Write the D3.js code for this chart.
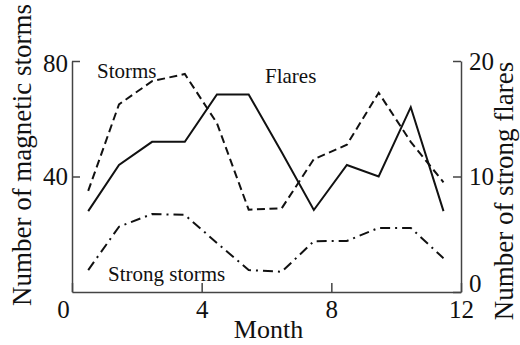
<!DOCTYPE html>
<html>

<head>
  <meta charset="utf-8">
  <!-- Load d3.js -->
  <script src="https://d3js.org/d3.v7.min.js"></script>

  <style>
    body {
      margin: 0;
      background: rgb(255, 255, 255);
    }

    text {
      font-family: "Liberation Serif", "Times New Roman", serif;
      fill: #111;
    }

    .axis path,
    .axis line {
      fill: none;
      stroke: #444;
      stroke-width: 1.5px;
    }

    .axis text {
      font-size: 25px;
    }

    .data-line {
      fill: none;
      stroke: #111;
      stroke-width: 2px;
    }
  </style>

</head>

<body>
  <div id="chart"></div>
  <script>
    // month positions of the points
    var months = [0.5, 1.45, 2.47, 3.48, 4.47, 5.45, 6.47, 7.46, 8.48, 9.46, 10.45, 11.46];

    // magnetic storms, left axis
    var storms = [35, 65, 73, 75.5, 58.5, 28.5, 29, 46, 51, 69, 52, 38];

    // strong storms, left axis
    var strongStorms = [7.6, 22.6, 27, 26.7, 17, 7.6, 7, 17.6, 17.7, 22.2, 22.2, 11.7];

    // strong flares, right axis
    var flares = [7, 11, 13, 13, 17.1, 17.1, 12.1, 7.1, 11, 10, 16, 7];

    var xTicks = [0, 4, 8, 12];
    var leftTicks = [40, 80];
    var rightTicks = [0, 10, 20];

    // set the dimensions and margins of the graph
    var margin = {
        top: 61,
        right: 59,
        bottom: 53,
        left: 72
      },
      width = 520 - margin.left - margin.right,
      height = 345 - margin.top - margin.bottom;

    var svg = d3.select('#chart')
      .append("svg")
      .attr("width", width + margin.left + margin.right)
      .attr("height", height + margin.top + margin.bottom)
      .append("g")
      .attr("transform", "translate(" + margin.left + "," + margin.top + ")");

    // set the ranges
    var x = d3.scaleLinear().domain([0, 12]).range([0, width]);
    var yLeft = d3.scaleLinear().domain([0, 80]).range([height, 0]);
    var yRight = d3.scaleLinear().domain([0, 20]).range([height, 0]);

    // Add the X Axis (ticks point inward)
    var xAxis = svg.append("g")
      .attr("class", "x axis")
      .attr("transform", "translate(0," + height + ")")
      .call(d3.axisBottom(x).tickValues(xTicks).tickSizeInner(-9).tickSizeOuter(0).tickPadding(8));
    xAxis.selectAll("text").attr("dx", function(d) {
      return d === 0 ? -9 : 0;
    });

    // Left Y Axis
    svg.append("g")
      .attr("class", "y axis")
      .call(d3.axisLeft(yLeft).tickValues(leftTicks).tickSizeInner(-8).tickSizeOuter(0).tickPadding(4))
      .selectAll("text").attr("dy", function(d) {
        return d === 80 ? "0.42em" : "0.32em";
      });

    // Right Y Axis
    svg.append("g")
      .attr("class", "y axis")
      .attr("transform", "translate(" + width + ",0)")
      .call(d3.axisRight(yRight).tickValues(rightTicks).tickSizeInner(-8).tickSizeOuter(0).tickPadding(8))
      .selectAll("text").attr("dy", function(d) {
        return d === 0 ? "-0.04em" : "0.32em";
      });

    // lines
    function lineFor(values, scale) {
      return d3.line()
        .x(function(d, i) {
          return x(months[i]);
        })
        .y(function(d) {
          return scale(d);
        })(values);
    }

    svg.append("path")
      .attr("class", "data-line")
      .style("stroke-dasharray", "8,4.5")
      .attr("d", lineFor(storms, yLeft));

    svg.append("path")
      .attr("class", "data-line")
      .style("stroke-dasharray", "10,5,2,5")
      .attr("d", lineFor(strongStorms, yLeft));

    svg.append("path")
      .attr("class", "data-line")
      .attr("d", lineFor(flares, yRight));

    // series labels
    svg.append("text").attr("x", 25).attr("y", 17)
      .style("font-size", "21px").text("Storms");
    svg.append("text").attr("x", 193).attr("y", 22)
      .style("font-size", "21px").text("Flares");
    svg.append("text").attr("x", 36).attr("y", 220)
      .style("font-size", "21px").text("Strong storms");

    // axis titles
    svg.append("text")
      .attr("x", width / 2 + 2)
      .attr("y", height + 46)
      .attr("text-anchor", "middle")
      .style("font-size", "26px")
      .text("Month");

    svg.append("text")
      .attr("transform", "translate(-41," + (155 - margin.top) + ") rotate(-90)")
      .attr("text-anchor", "middle")
      .style("font-size", "27px")
      .text("Number of magnetic storms");

    svg.append("text")
      .attr("transform", "translate(" + (513 - margin.left) + "," + (191 - margin.top) + ") rotate(-90)")
      .attr("text-anchor", "middle")
      .style("font-size", "27px")
      .text("Number of strong flares");
  </script>
</body>

</html>
